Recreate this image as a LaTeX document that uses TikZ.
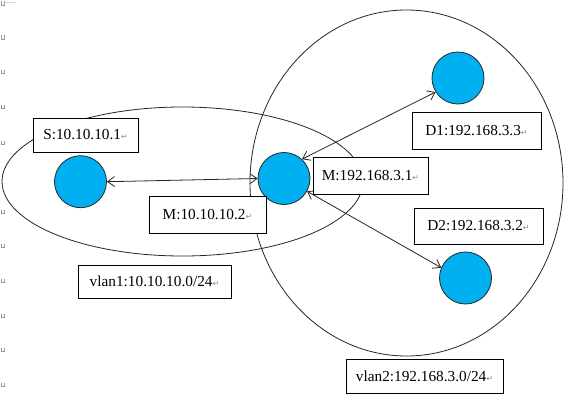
\documentclass[tikz,border=0pt]{standalone}
\usepackage{fontspec}
\setmainfont{Liberation Serif}
\newfontfamily\symfont{DejaVu Sans}
\usetikzlibrary{arrows.meta}
\definecolor{nodeblue}{HTML}{00B0F0}
\newcommand{\retmark}{{\symfont\fontsize{8}{8}\selectfont\color{black!45}↵}}
\begin{document}
\begin{tikzpicture}[x=1pt,y=-1pt,
  hostnode/.style={circle,draw=black!85,fill=nodeblue,line width=0.8pt,minimum size=52pt,inner sep=0pt},
  labelbox/.style={rectangle,draw=black,fill=white,line width=0.8pt,inner sep=0pt,font=\fontsize{15.3}{18}\selectfont},
  zone/.style={draw=black!85,line width=0.8pt},
  link/.style={draw=black!85,line width=0.8pt,{Straight Barb[length=7pt,width=10pt]}-{Straight Barb[length=7pt,width=10pt]}},
  pmark/.style={draw=black!40,line width=0.5pt}]
\useasboundingbox (0,0) rectangle (571,405);
\fill[white] (0,0) rectangle (571,405);

% paragraph marks in the left margin
\foreach \yy in {3.5,37.5,72,107,143,212,246,281,316,350,385}
  \draw[pmark] (1,\yy-2.5) -- (1,\yy+1.5) -- (4,\yy+1.5) -- (4,\yy-2.5);
\draw[draw=black!15,line width=0.5pt] (5,2) -- (16,2);

% vlan zones
\draw[zone] (406.5,183) ellipse [x radius=156.5pt, y radius=173pt];
\draw[zone] (182.5,181.5) ellipse [x radius=180.5pt, y radius=74.5pt];

% hosts
\node[hostnode] (S)  at (80.5,181.7) {};
\node[hostnode] (M)  at (284,178.5) {};
\node[hostnode] (D1) at (458,78) {};
\node[hostnode] (D2) at (465.5,278) {};

% links
\draw[link] (S.east) -- (M.west);
\draw[link] (M.47) -- (D1.212);
\draw[link] (M.-29) -- (D2.157);

% labels
\node[labelbox,minimum width=105pt,minimum height=34pt] (lS)  at (85.5,135) {S:10.10.10.1\retmark};
\node[labelbox,minimum width=117pt,minimum height=37pt] (lM1) at (207.5,214.5) {M:10.10.10.2\retmark};
\node[labelbox,minimum width=115pt,minimum height=37pt] (lM2) at (370.5,175.5) {M:192.168.3.1\retmark};
\node[labelbox,minimum width=129pt,minimum height=37pt] (lD1) at (476.5,130.5) {D1:192.168.3.3\retmark};
\node[labelbox,minimum width=129pt,minimum height=36pt] (lD2) at (478.5,226) {D2:192.168.3.2\retmark};
\node[labelbox,minimum width=153pt,minimum height=33pt] (lV1) at (154.5,281.5) {vlan1:10.10.10.0/24\retmark};
\node[labelbox,minimum width=157pt,minimum height=34pt] (lV2) at (424.5,376) {vlan2:192.168.3.0/24\retmark};
\end{tikzpicture}
\end{document}
